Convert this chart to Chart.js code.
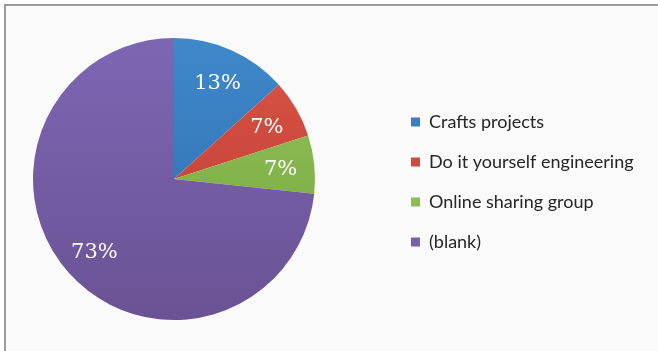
<!DOCTYPE html>
<html>
<head>
<meta charset="utf-8">
<script src="https://cdn.jsdelivr.net/npm/chart.js@4/dist/chart.umd.min.js"></script>
<style>
  html, body { margin: 0; padding: 0; background: #fff; }
  #frame {
    position: absolute; left: 4px; top: 4px;
    width: 700px; height: 400px;
    border-left: 2px solid #9c9c9c; border-top: 2px solid #9c9c9c;
    background: #fafafa;
  }
  #chart { position: absolute; left: 0; top: 0; }
</style>
</head>
<body>
<div id="frame"></div>
<canvas id="chart" width="658" height="351"></canvas>
<script>
const categories = ['Crafts projects', 'Do it yourself engineering', 'Online sharing group', '(blank)'];
const counts = [2, 1, 1, 11];
const topColors = ['#3f88cb', '#dc5446', '#98c75a', '#7d67b3'];
const bottomColors = ['#2c6dab', '#b73a30', '#6e9f3c', '#6a5294'];
const flatColors = ['#3a7fc3', '#d04a3f', '#8cbf4e', '#7660a8'];

// pie fills a square on the left, legend sits further right (as in the Excel original)
const placeBoxes = {
    id: 'placeBoxes',
    afterLayout(chart) {
        const a = chart.chartArea;
        a.right = a.left + (a.bottom - a.top);
        a.width = a.right - a.left;
        const lg = chart.legend;
        const dx = 411 - lg.options.labels.padding - lg.left;
        lg.left += dx;
        lg.right += dx;
        lg.top += 3;
        lg.bottom += 3;
    }
};

// white percentage labels inside the slices
const sliceLabels = {
    id: 'sliceLabels',
    afterDatasetsDraw(chart) {
        const ctx = chart.ctx;
        const meta = chart.getDatasetMeta(0);
        const total = counts.reduce((s, v) => s + v, 0);
        ctx.save();
        ctx.fillStyle = '#ffffff';
        ctx.font = '21px "DejaVu Serif"';
        ctx.textAlign = 'center';
        ctx.textBaseline = 'middle';
        meta.data.forEach((arc, i) => {
            const p = arc.getProps(['x', 'y', 'startAngle', 'endAngle', 'outerRadius'], true);
            const mid = (p.startAngle + p.endAngle) / 2;
            const r = p.outerRadius * 0.76;
            const txt = Math.round(counts[i] / total * 100) + '%';
            ctx.fillText(txt, p.x + Math.cos(mid) * r, p.y + Math.sin(mid) * r + 2);
        });
        ctx.restore();
    }
};

function sliceFill(context) {
    const i = context.dataIndex;
    const area = context.chart.chartArea;
    if (!area) return flatColors[i];
    const g = context.chart.ctx.createLinearGradient(0, area.top, 0, area.bottom);
    g.addColorStop(0, topColors[i]);
    g.addColorStop(1, bottomColors[i]);
    return g;
}

const ctx = document.getElementById('chart').getContext('2d');
new Chart(ctx, {
    type: 'pie',
    data: {
        labels: categories,
        datasets: [{
            data: counts,
            backgroundColor: sliceFill,
            borderWidth: 0
        }]
    },
    options: {
        responsive: false,
        animation: false,
        layout: {
            padding: { left: 33, top: 38, bottom: 31, right: 0 }
        },
        plugins: {
            tooltip: { enabled: false },
            legend: {
                position: 'right',
                labels: {
                    boxWidth: 9,
                    boxHeight: 9,
                    padding: 22,
                    color: '#262626',
                    font: { family: 'Lato', size: 18 },
                    generateLabels(chart) {
                        const items = Chart.overrides.pie.plugins.legend.labels.generateLabels(chart);
                        items.forEach((it, i) => {
                            it.fillStyle = flatColors[i];
                            it.strokeStyle = flatColors[i];
                            it.lineWidth = 0;
                        });
                        return items;
                    }
                }
            }
        }
    },
    plugins: [placeBoxes, sliceLabels]
});
</script>
</body>
</html>
